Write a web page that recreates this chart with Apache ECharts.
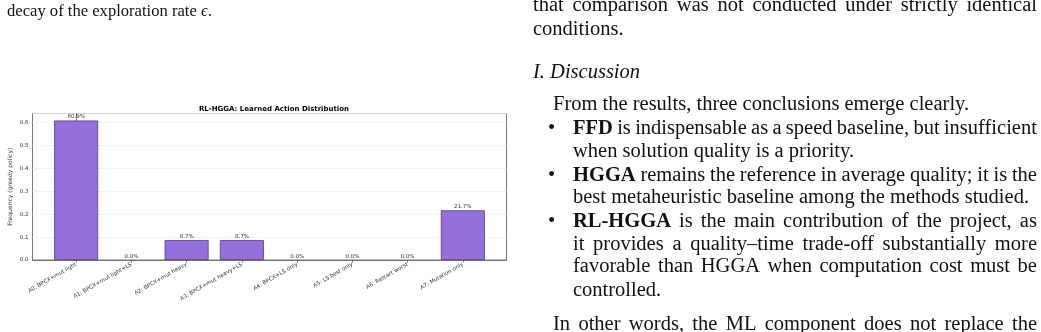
<!DOCTYPE html>
<html>
<head>
<meta charset="utf-8">
<script src="https://cdn.jsdelivr.net/npm/echarts@6/dist/echarts.min.js"></script>
<style>
  html, body { margin: 0; padding: 0; background: #fff; }
  #page { position: relative; width: 1041px; height: 332px; overflow: hidden; background: #fff; }
  #chart { position: absolute; left: 0; top: 0; width: 1041px; height: 332px; }
  .t { position: absolute; font-family: "Liberation Serif", "DejaVu Serif", serif; font-size: 20.5px; line-height: 23px; color: #111; white-space: nowrap; }
  .j { display: flex; justify-content: space-between; }
  .b { font-weight: bold; }
  .small { font-size: 16.6px; }
</style>
</head>
<body>
<div id="page">
  <div id="chart"></div>
  <div class="t small" style="left:7px;top:-1px;">decay of the exploration rate <i>ϵ</i>.</div>

  <div class="t j" data-w="504" style="left:533px;top:-7px;">that comparison was not conducted under strictly identical</div>
  <div class="t" style="left:533px;top:17px;">conditions.</div>
  <div class="t" style="left:533px;top:60px;"><i>I. Discussion</i></div>
  <div class="t" style="left:553px;top:92px;">From the results, three conclusions emerge clearly.</div>
  <div class="t" style="left:548px;top:116px;">•</div>
  <div class="t j" data-w="464" style="left:573px;top:116px;">**FFD** is indispensable as a speed baseline, but insufficient</div>
  <div class="t" style="left:573px;top:139px;">when solution quality is a priority.</div>
  <div class="t" style="left:548px;top:163px;">•</div>
  <div class="t j" data-w="464" style="left:573px;top:163px;">**HGGA** remains the reference in average quality; it is the</div>
  <div class="t" style="left:573px;top:185px;">best metaheuristic baseline among the methods studied.</div>
  <div class="t" style="left:548px;top:209px;">•</div>
  <div class="t j" data-w="464" style="left:573px;top:209px;">**RL-HGGA** is the main contribution of the project, as</div>
  <div class="t j" data-w="464" style="left:573px;top:232px;">it provides a quality–time trade-off substantially more</div>
  <div class="t j" data-w="464" style="left:573px;top:254px;">favorable than HGGA when computation cost must be</div>
  <div class="t" style="left:573px;top:278px;">controlled.</div>
  <div class="t j" data-w="484" style="left:553px;top:312px;">In other words, the ML component does not replace the</div>
</div>
<script>
// justified text lines: split into words spread across the column width
document.querySelectorAll('.j').forEach(el => {
  const words = el.textContent.trim().split(/\s+/);
  el.style.width = el.dataset.w + 'px';
  el.textContent = '';
  words.forEach(w => {
    const s = document.createElement('span');
    const m = w.match(/^\*\*(.*)\*\*$/);
    if (m) { s.className = 'b'; s.textContent = m[1]; } else { s.textContent = w; }
    el.appendChild(s);
  });
});

// ---- data ----
const categories = [
  "A0: BPCX+mut light",
  "A1: BPCX+mut light+LS",
  "A2: BPCX+mut heavy",
  "A3: BPCX+mut heavy+LS",
  "A4: BPCX+LS only",
  "A5: LS best only",
  "A6: Restart worst",
  "A7: Mutation only"
];
const frequencies = [0.609, 0.0, 0.087, 0.087, 0.0, 0.0, 0.0, 0.217];
const chartTitle = "RL-HGGA: Learned Action Distribution";
const yAxisTitle = "Frequency (greedy policy)";

// ---- chart ----
const chart = echarts.init(document.getElementById('chart'), null, { renderer: 'canvas' });
const positions = categories.map((c, i) => i);
const font = "DejaVu Sans";

chart.setOption({
  animation: false,
  backgroundColor: 'transparent',
  title: {
    text: chartTitle,
    left: 269, top: 101, textAlign: 'center',
    textStyle: { fontFamily: font, fontSize: 7, fontWeight: 'bold', color: '#000' }
  },
  grid: {
    left: 32.5, right: 1041 - 506.5, top: 113.5, bottom: 332 - 260,
    show: true, borderColor: '#555', borderWidth: 0.8, backgroundColor: 'transparent'
  },
  xAxis: {
    type: 'value',
    min: -0.79, max: 7.79,
    splitLine: { show: false },
    axisLine: { show: true, lineStyle: { color: '#555', width: 0.8 } },
    axisTick: { show: true, length: 2.5, customValues: positions, lineStyle: { color: '#555', width: 0.8 } },
    axisLabel: {
      customValues: positions,
      rotate: 30, fontSize: 5.5, fontFamily: font, color: '#333', margin: 4,
      formatter: v => categories[Math.round(v)]
    }
  },
  yAxis: {
    type: 'value',
    min: 0, max: 0.6395, interval: 0.1,
    name: yAxisTitle, nameLocation: 'middle', nameGap: 19,
    nameTextStyle: { fontFamily: font, fontSize: 6, color: '#333' },
    axisLine: { show: true, lineStyle: { color: '#555', width: 0.8 } },
    axisTick: { show: true, length: 2.5, lineStyle: { color: '#555', width: 0.8 } },
    axisLabel: {
      fontSize: 5.5, fontFamily: font, color: '#333', margin: 4,
      showMaxLabel: false,
      formatter: v => v.toFixed(1)
    },
    splitLine: { show: true, lineStyle: { color: '#eeeeee', width: 0.8 } }
  },
  series: [{
    type: 'bar',
    barWidth: 44,
    data: frequencies.map((v, i) => ({
      value: [positions[i], v],
      itemStyle: v > 0 ? {} : { borderWidth: 0 }
    })),
    itemStyle: { color: '#9370DB', borderColor: '#4e3f78', borderWidth: 0.8 },
    label: {
      show: true, position: 'top', distance: 0.5,
      fontSize: 5.5, fontFamily: font, color: '#333',
      formatter: p => (p.value[1] * 100).toFixed(1) + '%'
    }
  }]
});
</script>
</body>
</html>
